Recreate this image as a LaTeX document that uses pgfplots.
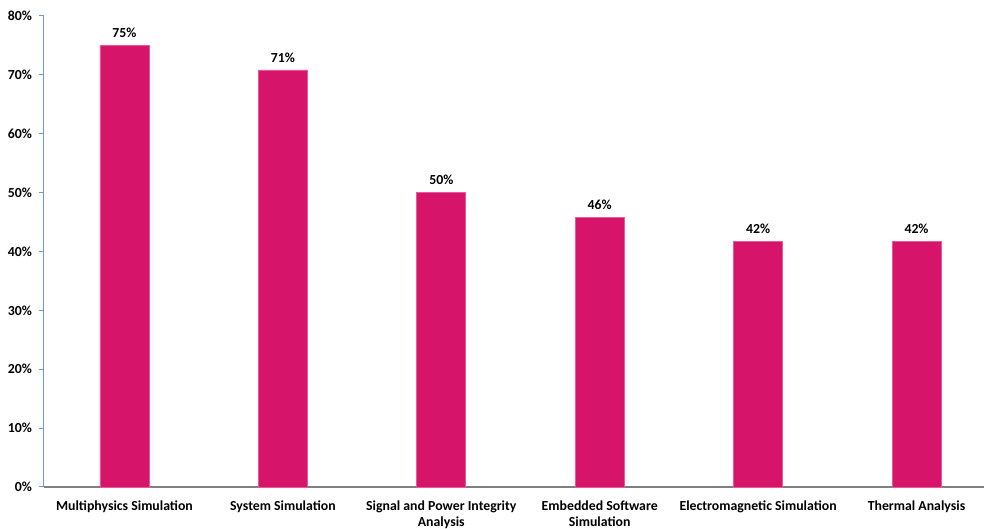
\documentclass[border=0pt]{standalone}
\usepackage{pgfplots}
\pgfplotsset{compat=1.18}
\usepackage{fontspec}
\setmainfont{Carlito}
\definecolor{barc}{RGB}{214,20,106}
\definecolor{baredge}{RGB}{232,90,150}
\definecolor{yax}{RGB}{112,150,214}
\definecolor{xax}{RGB}{128,128,128}
\begin{document}
\begin{tikzpicture}
\begin{axis}[
  name=ax,
  scale only axis,
  width=940pt, height=471pt,
  xmin=-0.508, xmax=5.426,
  ymin=0, ymax=80,
  axis x line*=bottom,
  axis y line*=left,
  x axis line style={draw=xax, line width=1.2pt, -},
  y axis line style={draw=yax, line width=1pt, -},
  ytick={0,10,20,30,40,50,60,70,80},
  yticklabels={0\%,10\%,20\%,30\%,40\%,50\%,60\%,70\%,80\%},
  ytick style={draw=yax, line width=1pt},
  tick align=outside,
  major tick length=4.5pt,
  yticklabel style={font=\fontsize{13.8}{16}\selectfont\bfseries, xshift=-4pt},
  xtick={0,1,2,3,4,5},
  xticklabels={Multiphysics Simulation, System Simulation, Signal and Power Integrity\\Analysis, Embedded Software\\Simulation, Electromagnetic Simulation, Thermal Analysis},
  xticklabel style={font=\fontsize{13.8}{16}\selectfont\bfseries, align=center, yshift=-6pt},
  x tick style={draw=none},
  ybar, bar width=49pt,
  nodes near coords={\pgfmathprintnumber[fixed,precision=0]{\pgfplotspointmeta}\%},
  nodes near coords style={font=\fontsize{13.8}{16}\selectfont\bfseries, yshift=4pt},
  /pgf/number format/assume math mode=true,
  point meta=y,
  clip=false,
]
\addplot[fill=barc, draw=baredge, line width=0.6pt] coordinates {
  (0,75) (1,70.83) (2,50) (3,45.83) (4,41.67) (5,41.67)
};
\end{axis}
\pgfresetboundingbox
\path[use as bounding box] (ax.south west) ++(-44pt,-42pt) rectangle ++(984pt,529pt);
\end{tikzpicture}
\end{document}
